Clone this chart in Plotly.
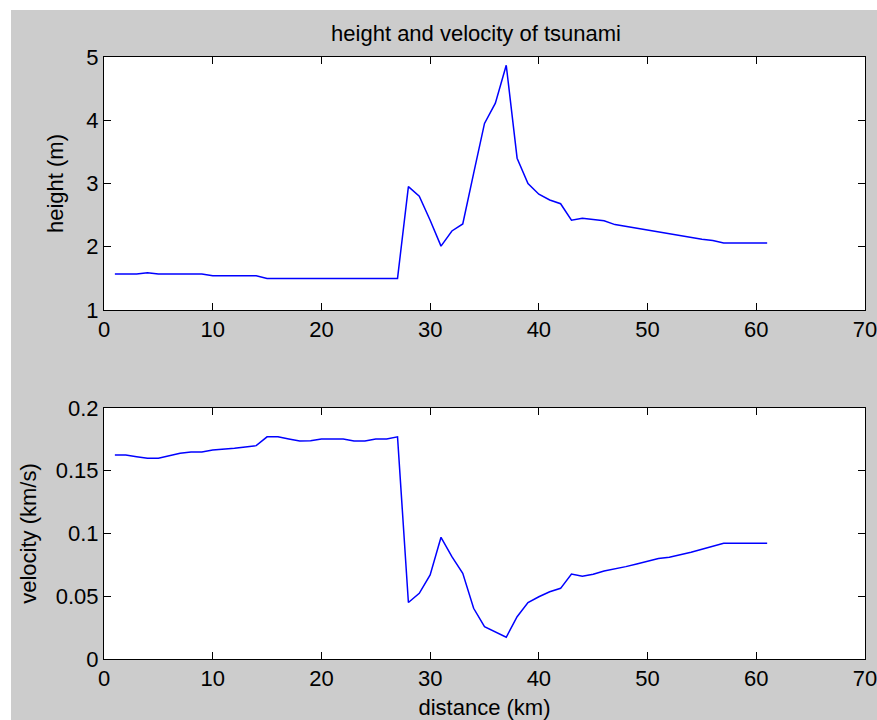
import plotly.graph_objects as go
from plotly.subplots import make_subplots

distance = list(range(1, 62))

height = [1.57, 1.57, 1.57, 1.59, 1.57, 1.57, 1.57, 1.57, 1.57, 1.54,
          1.54, 1.54, 1.54, 1.54, 1.50, 1.50, 1.50, 1.50, 1.50, 1.50,
          1.50, 1.50, 1.50, 1.50, 1.50, 1.50, 1.50, 2.95, 2.80, 2.42,
          2.01, 2.25, 2.36, 3.16, 3.95, 4.27, 4.87, 3.40, 3.00, 2.83,
          2.74, 2.68, 2.42, 2.45, 2.43, 2.41, 2.35, 2.32, 2.29, 2.26,
          2.23, 2.20, 2.17, 2.15, 2.12, 2.10, 2.06, 2.06, 2.06, 2.06, 2.06]

velocity = [0.1625, 0.1625, 0.1612, 0.1600, 0.1600, 0.1620, 0.1640, 0.1650, 0.1650, 0.1665,
            0.1670, 0.1680, 0.1690, 0.1700, 0.1770, 0.1770, 0.1753, 0.1737, 0.1740, 0.1753,
            0.1753, 0.1753, 0.1737, 0.1737, 0.1753, 0.1753, 0.1770, 0.0450, 0.0523, 0.0670,
            0.0970, 0.0815, 0.0683, 0.0404, 0.0258, 0.0218, 0.0173, 0.0337, 0.0449, 0.0496,
            0.0536, 0.0563, 0.0677, 0.0659, 0.0675, 0.0701, 0.0717, 0.0736, 0.0757, 0.0778,
            0.0800, 0.0810, 0.0829, 0.0850, 0.0874, 0.0900, 0.0922, 0.0922, 0.0922, 0.0922, 0.0922]

title_text = "height and velocity of tsunami"
xlabel = "distance (km)"
ylabel_top = "height (m)"
ylabel_bottom = "velocity (km/s)"

# the page's body margin is removed (post_script), so the figure fills the window
W, H = 877, 720
L, R, T, B = 104, 12, 57, 61
plot_h = H - T - B
plot_w = W - L - R
top_bottom_px = 310     # bottom edge of the upper axes (px)
bottom_top_px = 408     # top edge of the lower axes (px)

fig = make_subplots(rows=2, cols=1)
fig.add_trace(go.Scatter(x=distance, y=height, mode="lines",
                         line=dict(color="#0000ff", width=1.5)), row=1, col=1)
fig.add_trace(go.Scatter(x=distance, y=velocity, mode="lines",
                         line=dict(color="#0000ff", width=1.5)), row=2, col=1)

font = dict(family="Liberation Sans, Arial, sans-serif", size=22, color="#000000")
axis_common = dict(showline=True, linecolor="#000000", linewidth=1, mirror="ticks",
                   ticks="inside", ticklen=7, tickcolor="#000000", tickwidth=1,
                   showgrid=False, zeroline=False, tickfont=font,
                   ticklabeloverflow="allow")

fig.update_xaxes(range=[0, 70], dtick=10, tick0=0, domain=[0, 1], **axis_common)
fig.update_xaxes(title=dict(text=xlabel, font=font, standoff=10), row=2, col=1)
fig.update_yaxes(range=[1, 5], dtick=1, tick0=1, row=1, col=1,
                 domain=[(H - B - top_bottom_px) / plot_h, 1],
                 title=dict(text=ylabel_top, font=font, standoff=16), **axis_common)
fig.update_yaxes(range=[0, 0.2], dtick=0.05, tick0=0, row=2, col=1,
                 domain=[0, (H - B - bottom_top_px) / plot_h],
                 title=dict(text=ylabel_bottom, font=font, standoff=13), **axis_common)

# white strips at top and left of the gray figure background
x_left_white = (11 - L) / plot_w
y_top_white = (H - B - 10) / plot_h
fig.add_shape(type="rect", xref="paper", yref="paper", x0=-0.5, x1=x_left_white,
              y0=-0.5, y1=1.5, fillcolor="#ffffff", line=dict(width=0), layer="below")
fig.add_shape(type="rect", xref="paper", yref="paper", x0=-0.5, x1=1.5,
              y0=y_top_white, y1=1.5, fillcolor="#ffffff", line=dict(width=0), layer="below")

fig.update_layout(
    width=W, height=H,
    margin=dict(l=L, r=R, t=T, b=B, autoexpand=False),
    paper_bgcolor="#cccccc", plot_bgcolor="#ffffff",
    showlegend=False,
    title=dict(text=title_text, font=font, x=(476 - L) / plot_w, xref="paper",
               xanchor="center", y=(H - 33) / H, yanchor="middle"),
)

fig.write_html("out.html",
               config={"displayModeBar": False},
               post_script="document.body.style.margin='0';"
                           "document.body.style.overflow='hidden';"
                           "document.documentElement.style.overflow='hidden';")
